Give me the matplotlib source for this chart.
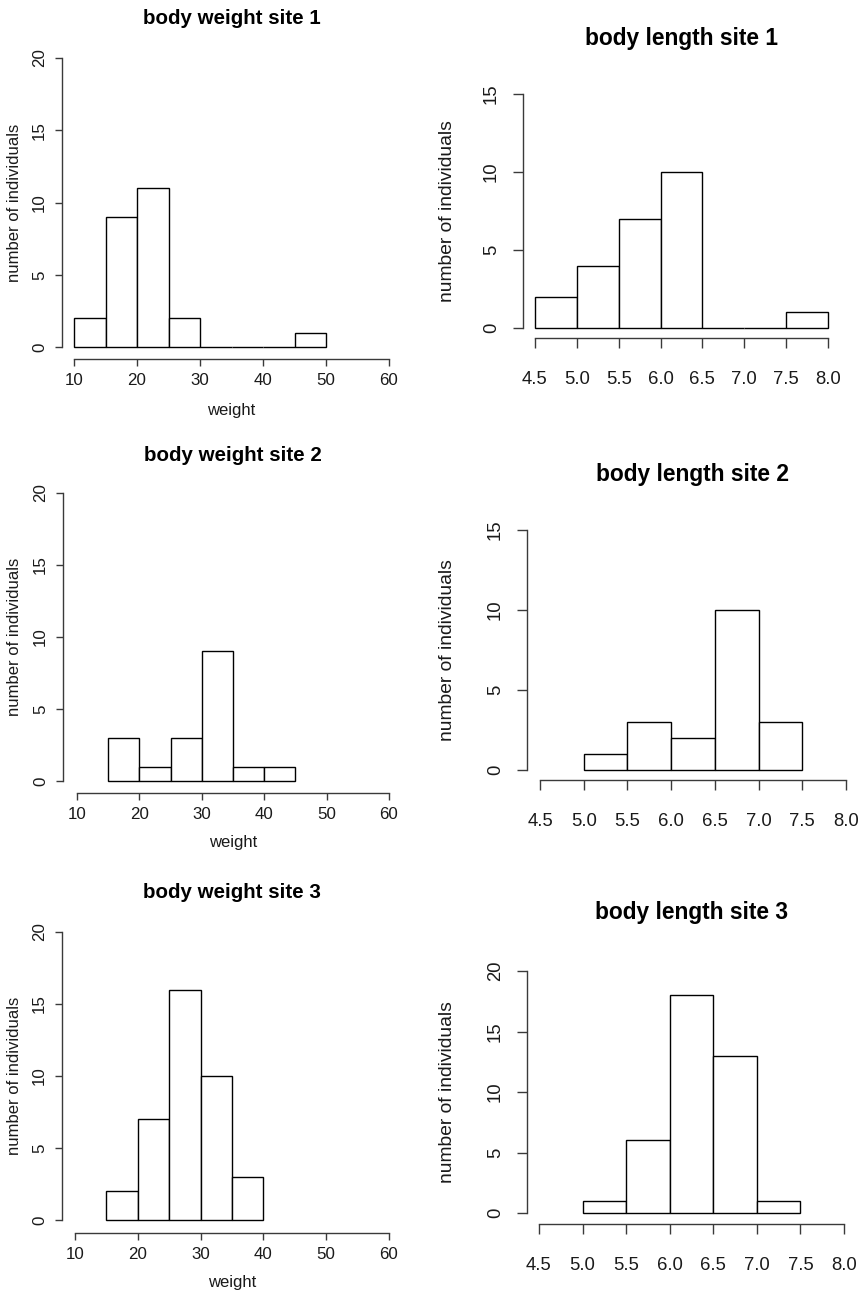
import numpy as np
import matplotlib
matplotlib.use("Agg")
import matplotlib.pyplot as plt

plt.rcParams['font.family'] = ['Liberation Sans', 'DejaVu Sans']

# ---------------- data ----------------
weight_edges_site1 = [10, 15, 20, 25, 30, 35, 40, 45, 50]
weight_counts_site1 = [2, 9, 11, 2, 0, 0, 0, 1]
weight_edges_site2 = [15, 20, 25, 30, 35, 40, 45]
weight_counts_site2 = [3, 1, 3, 9, 1, 1]
weight_edges_site3 = [15, 20, 25, 30, 35, 40]
weight_counts_site3 = [2, 7, 16, 10, 3]

length_edges_site1 = [4.5, 5.0, 5.5, 6.0, 6.5, 7.0, 7.5, 8.0]
length_counts_site1 = [2, 4, 7, 10, 0, 0, 1]
length_edges_site2 = [5.0, 5.5, 6.0, 6.5, 7.0, 7.5]
length_counts_site2 = [1, 3, 2, 10, 3]
length_edges_site3 = [5.0, 5.5, 6.0, 6.5, 7.0, 7.5]
length_counts_site3 = [1, 6, 18, 13, 1]

weight_ticks = [10, 20, 30, 40, 50, 60]
length_ticks = [4.5, 5.0, 5.5, 6.0, 6.5, 7.0, 7.5, 8.0]
titles = ["body weight site 1", "body length site 1",
          "body weight site 2", "body length site 2",
          "body weight site 3", "body length site 3"]
ylabel = "number of individuals"
xlabel_weight = "weight"

# ---------------- layout (pixels) ----------------
W, H = 860, 1292
fig = plt.figure(figsize=(W / 100, H / 100), dpi=100)
PT = 0.72  # points per pixel at dpi 100

panels = [
    # left, right, top, bottom, yspine_off, xspine_off, title_y, edges, counts, ylim, kind
    dict(l=74, r=389, t=58, b=347, yo=12, xo=12, ty=19, xl_y=410,
         edges=weight_edges_site1, counts=weight_counts_site1, ymax=20, kind='w', title=titles[0]),
    dict(l=535, r=828, t=94, b=328, yo=12, xo=10, ty=38, xl_y=None,
         edges=length_edges_site1, counts=length_counts_site1, ymax=15, kind='l', title=titles[1]),
    dict(l=77, r=389, t=493, b=781, yo=14, xo=12, ty=455, xl_y=843,
         edges=weight_edges_site2, counts=weight_counts_site2, ymax=20, kind='w', title=titles[2]),
    dict(l=540, r=846, t=530, b=770, yo=13, xo=10, ty=475, xl_y=None,
         edges=length_edges_site2, counts=length_counts_site2, ymax=15, kind='l', title=titles[3]),
    dict(l=75, r=389, t=932, b=1220, yo=13, xo=13, ty=892, xl_y=1282,
         edges=weight_edges_site3, counts=weight_counts_site3, ymax=20, kind='w', title=titles[4]),
    dict(l=539, r=844, t=971, b=1213, yo=12, xo=11, ty=913, xl_y=None,
         edges=length_edges_site3, counts=length_counts_site3, ymax=20, kind='l', title=titles[5]),
]

axis_col = '#3a3a3a'

for p in panels:
    ax = fig.add_axes([p['l'] / W, 1 - p['b'] / H, (p['r'] - p['l']) / W, (p['b'] - p['t']) / H])
    ax.set_facecolor('none')
    if p['kind'] == 'w':
        xt = weight_ticks
        xtl = [str(v) for v in xt]
        fs_tick, fs_ylab, fs_title = 12.2, 12.0, 14.8
        tlen, xpad, ypad = 5.0, 5.0, 5.8
        ylab_x = 15
    else:
        xt = length_ticks
        xtl = ["%.1f" % v for v in xt]
        fs_tick, fs_ylab, fs_title = 13.3, 13.9, 16.4
        tlen, xpad, ypad = 7.2, 16.5, 9.4
        ylab_x = 448
    ax.set_xlim(xt[0], xt[-1])
    ax.set_ylim(0, p['ymax'])

    edges = np.array(p['edges'], dtype=float)
    counts = np.array(p['counts'], dtype=float)
    ax.bar(edges[:-1], counts, width=np.diff(edges), align='edge',
           facecolor='white', edgecolor='black', linewidth=1.0, clip_on=False, zorder=3)

    ax.spines['top'].set_visible(False)
    ax.spines['right'].set_visible(False)
    for s in ('left', 'bottom'):
        ax.spines[s].set_color(axis_col)
        ax.spines[s].set_linewidth(1.0)
    ax.spines['left'].set_position(('outward', p['yo'] * PT))
    ax.spines['bottom'].set_position(('outward', p['xo'] * PT))
    ax.spines['left'].set_bounds(0, p['ymax'])
    ax.spines['bottom'].set_bounds(xt[0], xt[-1])

    ax.set_xticks(xt)
    ax.set_xticklabels(xtl)
    yt = list(range(0, p['ymax'] + 1, 5))
    ax.set_yticks(yt)
    ax.set_yticklabels([str(v) for v in yt], rotation=90, va='center')
    ax.tick_params(axis='both', direction='out', length=tlen, width=1.0, color=axis_col,
                   labelsize=fs_tick, labelcolor='#1a1a1a')
    ax.tick_params(axis='x', pad=xpad)
    ax.tick_params(axis='y', pad=ypad)

    cx = (p['l'] + p['r']) / 2
    fig.text(cx / W, 1 - p['ty'] / H, p['title'], ha='center', va='center',
             fontsize=fs_title, fontweight='bold', color='black')
    cy = (p['t'] + p['b']) / 2
    fig.text(ylab_x / W, 1 - cy / H, ylabel, rotation=90, ha='center', va='center',
             fontsize=fs_ylab, color='#1a1a1a')
    if p['xl_y'] is not None:
        fig.text(cx / W, 1 - p['xl_y'] / H, xlabel_weight, ha='center', va='center',
                 fontsize=fs_ylab, color='#1a1a1a')

fig.savefig("out.png", dpi=100, facecolor='white')
